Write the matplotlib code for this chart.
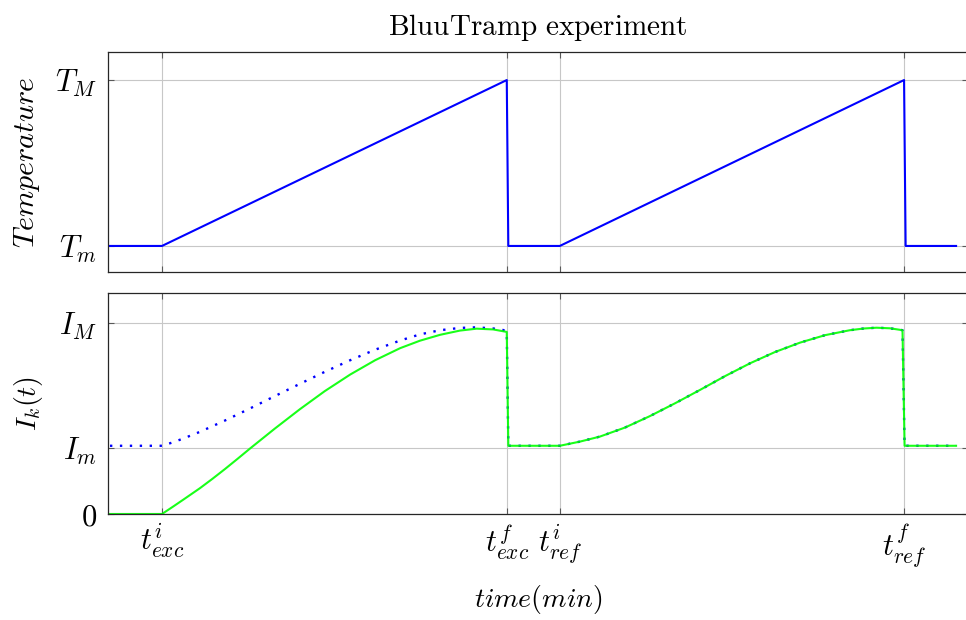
import matplotlib
matplotlib.use("Agg")
import matplotlib.pyplot as plt

plt.rcParams['mathtext.fontset'] = 'cm'

# time axis marks (minutes, arbitrary units)
tick_t = [1.0, 7.63, 8.65, 15.27]
tick_t_labels = [r'$t^i_{exc}$', r'$t^f_{exc}$', r'$t^i_{ref}$', r'$t^f_{ref}$']

# temperature profile
temp_t = [0.0, 1.0, 7.63, 7.66, 8.65, 15.27, 15.30, 16.27]
temp_v = [0.0, 0.0, 1.0, 0.0, 0.0, 1.0, 0.0, 0.0]
temp_ticks = [0.0, 1.0]
temp_tick_labels = [r'$T_m$', r'$T_M$']

# current, green curve
cur_t = [0.0, 1.0, 1.21, 1.41, 1.73, 1.97, 2.21, 2.45, 2.69, 3.17, 3.65, 4.13, 4.62,
         5.10, 5.58, 5.96, 6.35, 6.73, 7.05, 7.37, 7.63, 7.66,
         8.65, 9.04, 9.42, 9.90, 10.38, 10.87, 11.35, 11.83, 12.31, 12.79, 13.27,
         13.75, 14.23, 14.50, 14.74, 15.00, 15.24, 15.28, 16.27]
cur_v = [0.0, 0.0, 0.038, 0.075, 0.135, 0.184, 0.235, 0.288, 0.342, 0.447, 0.548, 0.643, 0.730,
         0.805, 0.868, 0.907, 0.938, 0.960, 0.970, 0.966, 0.953, 0.357,
         0.357, 0.379, 0.405, 0.452, 0.512, 0.580, 0.650, 0.722, 0.789, 0.848, 0.897,
         0.936, 0.962, 0.971, 0.975, 0.972, 0.962, 0.357, 0.357]

# current, blue dotted curve (first ramp only differs)
ref_t = [0.0, 1.0, 1.21, 1.41, 1.73, 2.21, 2.69, 3.17, 3.65, 4.13, 4.62, 5.10, 5.58,
         5.96, 6.35, 6.73, 7.05, 7.37, 7.56]
ref_v = [0.357, 0.357, 0.375, 0.395, 0.430, 0.489, 0.552, 0.617, 0.681, 0.744, 0.805, 0.860, 0.908,
         0.940, 0.962, 0.974, 0.977, 0.971, 0.963]
ref_t = ref_t + cur_t[20:]
ref_v = ref_v + cur_v[20:]

cur_ticks = [0.0, 0.346, 1.0]
cur_tick_labels = [r'$0$', r'$I_m$', r'$I_M$']

fig = plt.figure(figsize=(9.66, 6.2), dpi=100)
ax1 = fig.add_axes([0.1118, 0.5613, 0.8903, 0.3548])
ax2 = fig.add_axes([0.1118, 0.1710, 0.8903, 0.3565])

xlim = (-0.038, 16.5)

def style(ax):
    ax.set_xlim(*xlim)
    ax.grid(True, color='0.78', lw=0.8)
    ax.set_axisbelow(True)
    ax.tick_params(direction='in', length=4, color='0.35', top=True, right=True,
                   labelsize=22)
    ax.tick_params(axis='y', pad=8)
    ax.tick_params(axis='x', pad=6)
    for s in ax.spines.values():
        s.set_color('0.15')
        s.set_linewidth(0.9)
    ax.set_xticks(tick_t)

ax1.plot(temp_t, temp_v, color='blue', lw=1.5)
style(ax1)
ax1.set_ylim(-0.157, 1.169)
ax1.set_yticks(temp_ticks)
ax1.set_yticklabels(temp_tick_labels)
ax1.set_xticklabels([])
ax1.set_ylabel(r'$Temperature$', fontsize=21.5, labelpad=9)
ax1.set_title(r'$\mathrm{BluuTramp\ experiment}$', fontsize=21, pad=12)

ax2.plot(ref_t, ref_v, color='blue', lw=1.7, linestyle=(0, (1, 3.2)))
ax2.plot(cur_t, cur_v, color=(0, 1, 0), lw=1.5, alpha=0.9)
style(ax2)
ax2.set_ylim(0, 1.157)
ax2.set_yticks(cur_ticks)
ax2.set_yticklabels(cur_tick_labels)
ax2.set_xticklabels(tick_t_labels)
ax2.set_ylabel(r'$I_k(t)$', fontsize=20, labelpad=10)
ax2.set_xlabel(r'$time(min)$', fontsize=20, labelpad=9)

fig.savefig('out.png', dpi=100)
